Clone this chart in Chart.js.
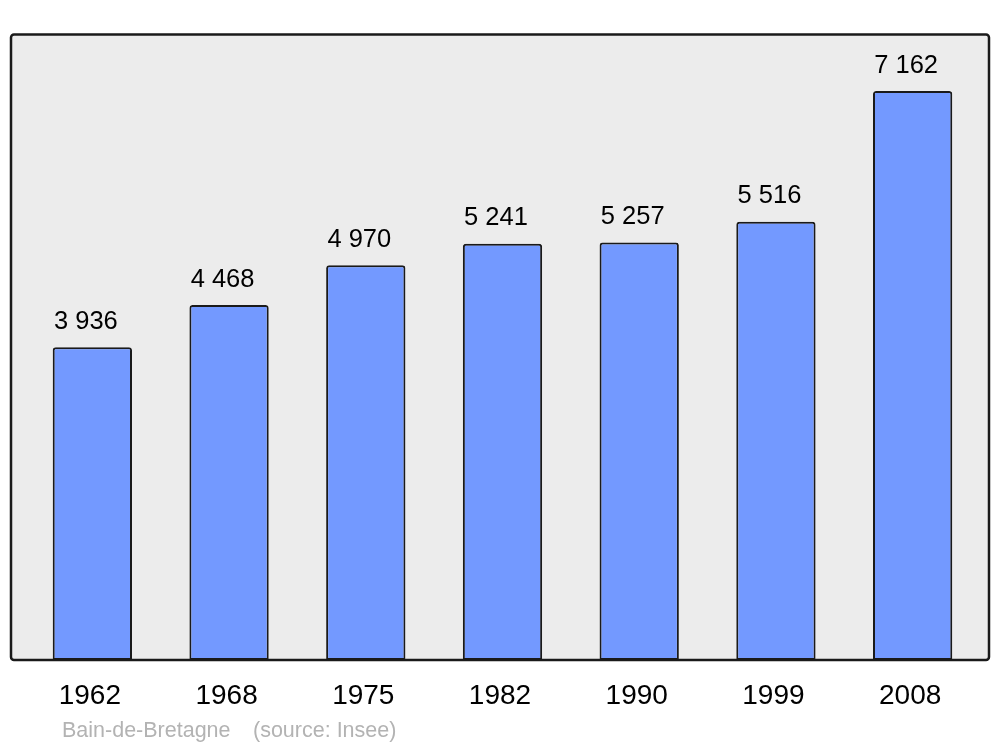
<!DOCTYPE html>
<html><head><meta charset="utf-8">
<script src="https://cdn.jsdelivr.net/npm/chart.js@4.4.1/dist/chart.umd.min.js"></script>
<style>html,body{margin:0;padding:0;background:#fff;}#wrap{width:1000px;height:747px;}</style>
</head><body><div id="wrap"><canvas id="c" width="1000" height="747"></canvas></div>
<script>
const years = ["1962","1968","1975","1982","1990","1999","2008"];
const population = [3936,4468,4970,5241,5257,5516,7162];
const valueLabels = ["3 936","4 468","4 970","5 241","5 257","5 516","7 162"];
const townName = "Bain-de-Bretagne";
const sourceText = "(source: Insee)";

const FONT = '"Liberation Sans", Arial, sans-serif';

const framePlugin = {
  id: 'frame',
  beforeDraw(chart) {
    const ctx = chart.ctx;
    ctx.save();
    ctx.fillStyle = '#fff';
    ctx.fillRect(0,0,chart.width,chart.height);
    ctx.beginPath();
    ctx.roundRect(11, 34.5, 978, 625.5, 3);
    ctx.fillStyle = '#ececec';
    ctx.fill();
    ctx.restore();
  },
  afterDatasetsDraw(chart) {
    const ctx = chart.ctx;
    ctx.save();
    ctx.beginPath();
    ctx.roundRect(11, 34.5, 978, 625.5, 3);
    ctx.lineWidth = 2.5;
    ctx.strokeStyle = '#1a1a1a';
    ctx.stroke();
    const meta = chart.getDatasetMeta(0);
    ctx.fillStyle = '#000';
    ctx.textAlign = 'center';
    ctx.textBaseline = 'middle';
    ctx.font = '25.5px ' + FONT;
    meta.data.forEach((bar, i) => {
      ctx.fillText(valueLabels[i], bar.x - 6.5, bar.y - 25.5);
    });
    const xs = chart.scales.x;
    ctx.font = '28px ' + FONT;
    years.forEach((y, i) => {
      ctx.fillText(y, xs.getPixelForValue(i) - 2.5, 696);
    });
    ctx.textAlign = 'left';
    ctx.font = '21.5px ' + FONT;
    ctx.fillStyle = '#b3b3b3';
    ctx.fillText(townName, 62, 731);
    ctx.fillText(sourceText, 253, 731);
    ctx.restore();
  }
};

new Chart(document.getElementById('c'), {
  type: 'bar',
  data: {
    labels: years,
    datasets: [{
      data: population,
      backgroundColor: '#7399ff',
      borderColor: '#1a1a1a',
      borderWidth: 2,
      borderSkipped: false,
      borderRadius: {topLeft: 3, topRight: 3, bottomLeft: 0, bottomRight: 0},
      categoryPercentage: 1,
      barPercentage: 0.58
    }]
  },
  options: {
    responsive: false,
    animation: false,
    devicePixelRatio: 1,
    layout: { padding: { left: 24, right: 19, top: 34, bottom: 87 } },
    plugins: { legend: { display: false }, tooltip: { enabled: false } },
    scales: {
      x: { display: false },
      y: { display: false, min: 0, max: 7880 }
    }
  },
  plugins: [framePlugin]
});
</script></body></html>
